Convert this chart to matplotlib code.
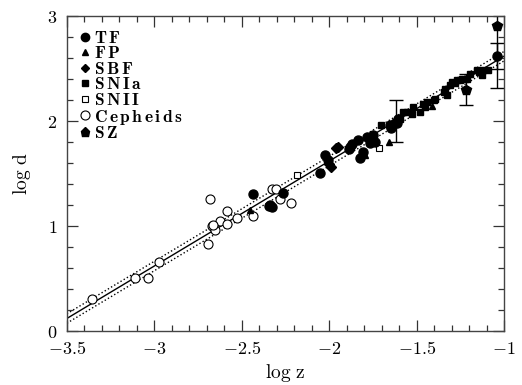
import matplotlib
matplotlib.use("Agg")
import matplotlib.pyplot as plt
import numpy as np

plt.rcParams['font.family'] = ['Liberation Serif', 'DejaVu Serif']
plt.rcParams['mathtext.fontset'] = 'cm'

# ---- data (log z, log d) ----
tf_x = [-2.438, -2.262, -2.339, -2.330, -2.345, -2.053, -2.024, -2.005, -1.881, -1.890,
        -1.823, -1.833, -1.786, -1.748, -1.805, -1.767, -1.738, -1.648, -1.623, -1.605,
        -1.652, -1.614, -1.870, -1.042]
tf_y = [1.305, 1.320, 1.200, 1.180, 1.190, 1.505, 1.676, 1.630, 1.755, 1.730,
        1.645, 1.820, 1.850, 1.867, 1.710, 1.790, 1.800, 1.930, 1.978, 2.025,
        1.962, 1.978, 1.780, 2.620]
tf_err_x = [-1.620, -1.042]
tf_err_y = [2.000, 2.620]
tf_err = [0.20, 0.12]

fp_x = [-2.453, -1.795, -1.656, -1.414]
fp_y = [1.152, 1.676, 1.800, 2.145]

sbf_x = [-1.991, -1.948, -2.000, -1.960]
sbf_y = [1.565, 1.755, 1.590, 1.740]

snia_x = [-1.704, -1.595, -1.576, -1.557, -1.528, -1.519, -1.481, -1.462, -1.452, -1.442,
          -1.404, -1.395, -1.347, -1.337, -1.328, -1.309, -1.299, -1.280, -1.271, -1.251,
          -1.242, -1.213, -1.195, -1.156, -1.147, -1.128, -1.119, -1.093]
snia_y = [1.962, 2.025, 2.089, 2.090, 2.070, 2.135, 2.089, 2.168, 2.135, 2.184,
          2.200, 2.215, 2.280, 2.310, 2.248, 2.343, 2.373, 2.365, 2.390, 2.390,
          2.406, 2.406, 2.450, 2.486, 2.470, 2.440, 2.486, 2.490]

snii_x = [-2.186, -1.713]
snii_y = [1.490, 1.740]

ceph_x = [-3.355, -3.111, -3.035, -2.974, -2.684, -2.692, -2.669, -2.653, -2.625, -2.586,
          -2.586, -2.529, -2.434, -2.329, -2.304, -2.220, -2.281, -2.663]
ceph_y = [0.305, 0.505, 0.510, 0.654, 1.254, 0.830, 1.003, 0.962, 1.050, 1.143,
          1.022, 1.073, 1.098, 1.350, 1.350, 1.216, 1.254, 1.010]

sz_x = [-1.042, -1.217]
sz_y = [2.905, 2.300]
sz_err = [0.585, 0.150]

fit_x = [-3.5, -1.0]
fit_zero = 3.62
fit_band = 0.045

x_ticks = [-3.5, -3, -2.5, -2, -1.5, -1]
x_ticklabels = [r'$-3.5$', r'$-3$', r'$-2.5$', r'$-2$', r'$-1.5$', r'$-1$']
y_ticks = [0, 1, 2, 3]
y_ticklabels = [r'$0$', r'$1$', r'$2$', r'$3$']

legend_labels = ['TF', 'FP', 'SBF', 'SNIa', 'SNII', 'Cepheids', 'SZ']

# ---- figure ----
fig = plt.figure(figsize=(5.22, 3.85), dpi=100)
ax = fig.add_axes([0.128, 0.140, 0.838, 0.818])

fx = np.array(fit_x)
ax.plot(fx, fx + fit_zero, '-', color='black', lw=1.0, zorder=1)
ax.plot(fx, fx + fit_zero + fit_band, ':', color='black', lw=1.0, zorder=1)
ax.plot(fx, fx + fit_zero - fit_band, ':', color='black', lw=1.0, zorder=1)

ax.errorbar(tf_err_x, tf_err_y, yerr=tf_err, fmt='none', ecolor='black', elinewidth=1.0,
            capsize=5, capthick=1.0, zorder=2)
ax.errorbar(sz_x, sz_y, yerr=sz_err, fmt='none', ecolor='black', elinewidth=1.0,
            capsize=5, capthick=1.0, zorder=2)

ax.plot(ceph_x, ceph_y, 'o', ms=6.5, mfc='white', mec='black', mew=0.8, ls='none', zorder=3)
ax.plot(snii_x, snii_y, 's', ms=4.5, mfc='white', mec='black', mew=0.8, ls='none', zorder=3)
ax.plot(tf_x, tf_y, 'o', ms=6.5, color='black', ls='none', zorder=4)
ax.plot(fp_x, fp_y, '^', ms=5, color='black', ls='none', zorder=4)
ax.plot(sbf_x, sbf_y, 'D', ms=5, color='black', ls='none', zorder=4)
ax.plot(snia_x, snia_y, 's', ms=5, color='black', ls='none', zorder=4)
ax.plot(sz_x, sz_y, 'p', ms=7, color='black', ls='none', zorder=4)

ax.set_xlim(-3.5, -1.0)
ax.set_ylim(0, 3)
ax.set_xticks(x_ticks)
ax.set_xticklabels(x_ticklabels)
ax.set_yticks(y_ticks)
ax.set_yticklabels(y_ticklabels)
ax.set_xticks(np.arange(-3.5, -0.99, 0.1), minor=True)
ax.set_yticks(np.arange(0, 3.01, 0.2), minor=True)
ax.tick_params(which='both', direction='in', top=True, right=True, labelsize=13, width=0.9,
               color='#333333')
ax.tick_params(which='major', length=8)
ax.tick_params(which='minor', length=4)
ax.tick_params(axis='x', pad=7)
ax.tick_params(axis='y', pad=7)
for s in ax.spines.values():
    s.set_color('#444444')
    s.set_linewidth(1.0)

ax.set_xlabel(r'$\rm log\ z$', fontsize=14, labelpad=3)
ax.set_ylabel(r'$\rm log\ d$', fontsize=14, labelpad=10)

# custom legend
sym_x = 0.042
txt_x = 0.062
ys = [0.935, 0.886, 0.835, 0.787, 0.737, 0.686, 0.632]
markers = [dict(marker='o', ms=6, mfc='black', mec='black'),
           dict(marker='^', ms=5, mfc='black', mec='black'),
           dict(marker='D', ms=4.5, mfc='black', mec='black'),
           dict(marker='s', ms=4.5, mfc='black', mec='black'),
           dict(marker='s', ms=4.5, mfc='white', mec='black', mew=0.8),
           dict(marker='o', ms=6.5, mfc='white', mec='black', mew=0.8),
           dict(marker='p', ms=6.5, mfc='black', mec='black')]
for lab, yy, mk in zip(legend_labels, ys, markers):
    ax.plot([sym_x], [yy], ls='none', transform=ax.transAxes, clip_on=False, **mk)
    spaced = r'\,'.join(lab)
    ax.text(txt_x, yy, r'$\mathbf{' + spaced + '}$', transform=ax.transAxes, fontsize=12.5,
            va='center_baseline', ha='left')

fig.savefig('out.png', dpi=100)
